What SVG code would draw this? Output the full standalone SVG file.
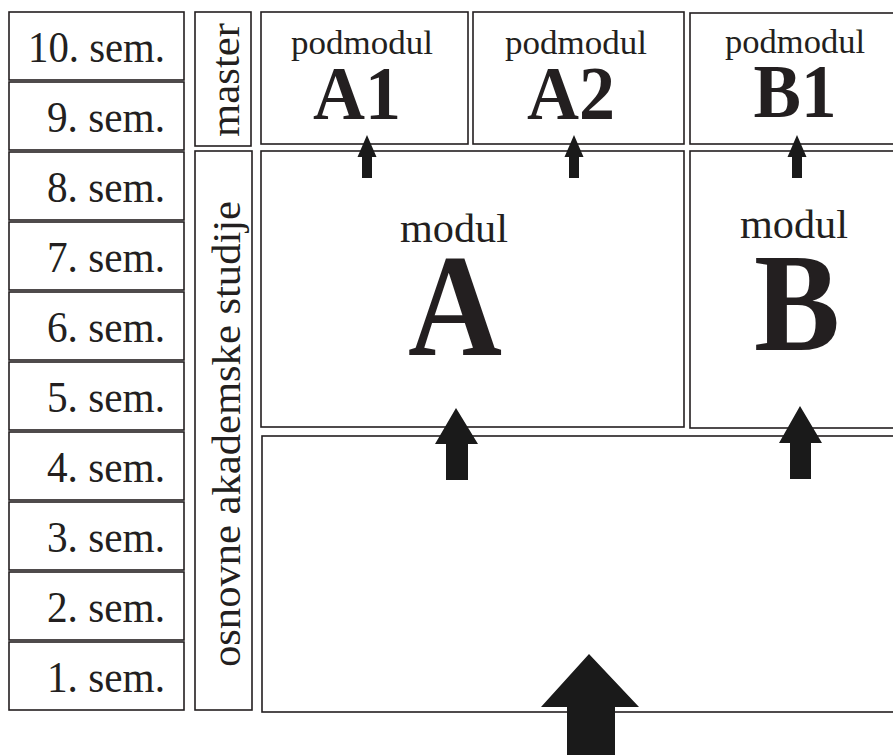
<svg xmlns="http://www.w3.org/2000/svg" width="893" height="755" viewBox="0 0 893 755">
<style>
.box{fill:#fff;stroke:#231f20;stroke-width:1.6}
.t{font-family:"Liberation Serif","Times New Roman",serif;fill:#231f20}
.sem{font-size:44px;text-anchor:end}
.pm{font-size:33px;text-anchor:middle}
.big{font-weight:bold;text-anchor:middle}
.arr{fill:#1a1a1a;stroke:none}
</style>
<rect width="893" height="755" fill="#fff"/>
<g id="semesters">
<g id="sem10"><rect class="box" x="9" y="12" width="175" height="68"/><text class="t sem" x="165" y="62" textLength="137" lengthAdjust="spacingAndGlyphs">10. sem.</text></g>
<g id="sem9"><rect class="box" x="9" y="82" width="175" height="68"/><text class="t sem" x="165" y="132" textLength="118" lengthAdjust="spacingAndGlyphs">9. sem.</text></g>
<g id="sem8"><rect class="box" x="9" y="152" width="175" height="68"/><text class="t sem" x="165" y="202" textLength="118" lengthAdjust="spacingAndGlyphs">8. sem.</text></g>
<g id="sem7"><rect class="box" x="9" y="222" width="175" height="68"/><text class="t sem" x="165" y="272" textLength="118" lengthAdjust="spacingAndGlyphs">7. sem.</text></g>
<g id="sem6"><rect class="box" x="9" y="292" width="175" height="68"/><text class="t sem" x="165" y="342" textLength="118" lengthAdjust="spacingAndGlyphs">6. sem.</text></g>
<g id="sem5"><rect class="box" x="9" y="362" width="175" height="68"/><text class="t sem" x="165" y="412" textLength="118" lengthAdjust="spacingAndGlyphs">5. sem.</text></g>
<g id="sem4"><rect class="box" x="9" y="432" width="175" height="68"/><text class="t sem" x="165" y="482" textLength="118" lengthAdjust="spacingAndGlyphs">4. sem.</text></g>
<g id="sem3"><rect class="box" x="9" y="502" width="175" height="68"/><text class="t sem" x="165" y="552" textLength="118" lengthAdjust="spacingAndGlyphs">3. sem.</text></g>
<g id="sem2"><rect class="box" x="9" y="572" width="175" height="68"/><text class="t sem" x="165" y="622" textLength="118" lengthAdjust="spacingAndGlyphs">2. sem.</text></g>
<g id="sem1"><rect class="box" x="9" y="642" width="175" height="68"/><text class="t sem" x="165" y="692" textLength="118" lengthAdjust="spacingAndGlyphs">1. sem.</text></g>
</g>
<g id="master"><rect class="box" x="195" y="12" width="56" height="134"/><text class="t" font-size="41" text-anchor="middle" transform="translate(239,80) rotate(-90)" textLength="114" lengthAdjust="spacingAndGlyphs">master</text></g>
<g id="osnovne"><rect class="box" x="195" y="151" width="57" height="559"/><text class="t" font-size="40" text-anchor="middle" transform="translate(240,434) rotate(-90)" textLength="466" lengthAdjust="spacingAndGlyphs">osnovne akademske studije</text></g>
<g id="A1"><rect class="box" x="261" y="12" width="207" height="132"/><text class="t pm" x="362" y="54" textLength="142" lengthAdjust="spacingAndGlyphs">podmodul</text><text class="t big" x="357" y="119" font-size="76" textLength="88" lengthAdjust="spacingAndGlyphs">A1</text></g>
<g id="A2"><rect class="box" x="473" y="12" width="211" height="132"/><text class="t pm" x="576" y="54" textLength="142" lengthAdjust="spacingAndGlyphs">podmodul</text><text class="t big" x="571" y="119" font-size="76" textLength="88" lengthAdjust="spacingAndGlyphs">A2</text></g>
<g id="B1"><rect class="box" x="690" y="13" width="220" height="131"/><text class="t pm" x="795" y="53" textLength="140" lengthAdjust="spacingAndGlyphs">podmodul</text><text class="t big" x="795" y="117" font-size="76" textLength="83" lengthAdjust="spacingAndGlyphs">B1</text></g>
<g id="modulA"><rect class="box" x="261" y="151" width="423" height="276"/><text class="t" x="454" y="242" font-size="40" text-anchor="middle" textLength="108" lengthAdjust="spacingAndGlyphs">modul</text><text class="t big" x="455" y="355" font-size="146" textLength="94" lengthAdjust="spacingAndGlyphs">A</text></g>
<g id="modulB"><rect class="box" x="690" y="151" width="220" height="277"/><text class="t" x="794" y="238" font-size="40" text-anchor="middle" textLength="108" lengthAdjust="spacingAndGlyphs">modul</text><text class="t big" x="797" y="350" font-size="140" textLength="86" lengthAdjust="spacingAndGlyphs">B</text></g>
<g id="base"><rect class="box" x="262" y="436" width="650" height="276"/></g>
<g id="connectors">
<polygon class="arr" points="367,135 376.5,157 372,157 372,178 362,178 362,157 357.5,157"/>
<polygon class="arr" points="574,135 583.5,157 579,157 579,178 569,178 569,157 564.5,157"/>
<polygon class="arr" points="797,135 806.5,157 802,157 802,178 792,178 792,157 787.5,157"/>
<polygon class="arr" points="456,408 478,444 468,444 468,480 446,480 446,444 435,444"/>
<polygon class="arr" points="800,406 822,443 811,443 811,479 790,479 790,443 779,443"/>
<polygon class="arr" points="589,654 639,707 615,707 615,755 567,755 567,707 541,707"/>
</g>
</svg>
